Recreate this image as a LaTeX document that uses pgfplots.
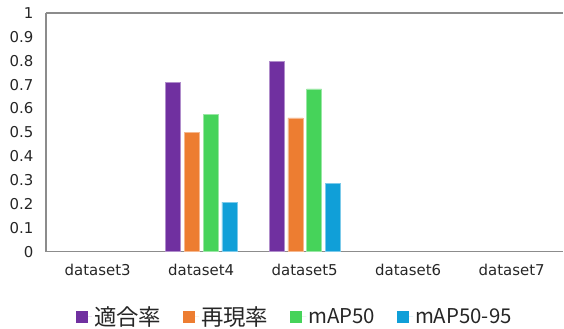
\documentclass[border=0pt]{standalone}
\usepackage{pgfplots}
\pgfplotsset{compat=1.18}
\usepackage{fontspec}
\setmainfont{DejaVu Sans}
\newfontfamily\jpfont{Noto Sans CJK JP}

\definecolor{cPurple}{HTML}{7030A0}
\definecolor{cOrange}{HTML}{ED7D31}
\definecolor{cGreen}{HTML}{46D35A}
\definecolor{cBlue}{HTML}{109FD8}
\definecolor{axgray}{HTML}{8C8C8C}

\newcommand{\jp}[1]{{\fontsize{22.5}{26}\selectfont #1}}

\begin{document}
\begin{tikzpicture}
\begin{axis}[
  scale only axis,
  width=518bp, height=239bp,
  xmin=-0.5, xmax=4.5,
  ymin=0, ymax=1,
  ytick={0,0.1,...,1.01},
  yticklabel style={/pgf/number format/fixed, /pgf/number format/precision=1},
  /pgf/number format/assume math mode=true,
  xtick={0,1,2,3,4},
  xticklabels={dataset3,dataset4,dataset5,dataset6,dataset7},
  major tick length=0pt,
  axis x line*=box,
  axis y line*=left,
  axis line style={-, draw=axgray, line width=1.1pt},
  ticklabel style={font=\fontsize{15}{18}\selectfont, text=black!85},
  yticklabel style={xshift=-9bp},
  xticklabel style={yshift=-9bp},
  ybar=3.8bp,
  bar width=15bp,
  clip=false,
  legend columns=4,
  legend style={draw=none, fill=none, at={(rel axis cs:0.481,0)}, anchor=center,
    yshift=-65bp, font=\jpfont\fontsize{20.5}{24}\selectfont, text=black!85,
    /tikz/every even column/.append style={column sep=20bp},
    inner sep=0pt},
  legend image code/.code={\fill[#1, draw=none] (0bp,-6bp) rectangle (12bp,6bp);
    \path[draw=none] (0bp,0bp) -- (16bp,0bp);},
]
\addplot[fill=cPurple, draw=cPurple!55!white, line width=0.6pt] coordinates {(1,0.710) (2,0.796)};
\addplot[fill=cOrange, draw=cOrange!55!white, line width=0.6pt] coordinates {(1,0.499) (2,0.561)};
\addplot[fill=cGreen, draw=cGreen!55!white, line width=0.6pt] coordinates {(1,0.576) (2,0.682)};
\addplot[fill=cBlue, draw=cBlue!55!white, line width=0.6pt] coordinates {(1,0.208) (2,0.286)};
\legend{\jp{適合率},\jp{再現率},mAP50,mAP50-95}
\path ([shift={(-46bp,-77bp)}]rel axis cs:0,0) rectangle ([shift={(0bp,13bp)}]rel axis cs:1,1);
\end{axis}
\end{tikzpicture}
\end{document}
